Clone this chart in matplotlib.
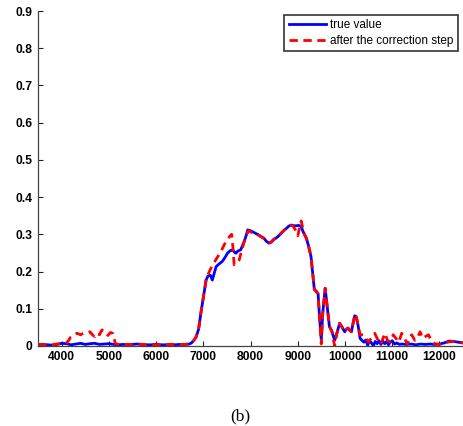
import numpy as np
import matplotlib
matplotlib.use("Agg")
import matplotlib.pyplot as plt

# true signal (blue) sampled along frequency axis
true_x = [3500, 3600, 3700, 3800, 3900, 4000, 4100, 4200, 4300, 4400, 4500,
          4600, 4700, 4800, 4900, 5000, 5100, 5200, 5300, 5400, 5500, 5600,
          5700, 5800, 5900, 6000, 6100, 6200, 6300, 6400, 6500, 6600, 6700,
          6750, 6800, 6850, 6900, 6950, 7000, 7030, 7060, 7100, 7150, 7190,
          7230, 7270, 7330, 7400, 7460, 7510, 7570, 7620, 7660, 7690, 7730,
          7790, 7830, 7870, 7910, 7940, 7990, 8040, 8100, 8160, 8220, 8280,
          8330, 8390, 8440, 8480, 8540, 8580, 8630, 8680, 8720, 8760, 8810,
          8860, 8920, 8970, 9020, 9070, 9120, 9180, 9230, 9280, 9320, 9350,
          9390, 9430, 9460, 9497, 9530, 9580, 9620, 9670, 9720, 9780, 9830,
          9886, 9940, 9993, 10030, 10064, 10100, 10135, 10170, 10206, 10240,
          10277, 10320, 10360, 10400, 10440, 10480, 10520, 10560, 10600,
          10640, 10680, 10720, 10760, 10800, 10840, 10880, 10920, 10960,
          11000, 11050, 11100, 11150, 11200, 11300, 11400, 11500, 11600,
          11700, 11800, 11900, 12000, 12100, 12200, 12300, 12400, 12500]
true_y = [0.003, 0.004, 0.003, 0.002, 0.004, 0.007, 0.006, 0.003, 0.005, 0.007,
          0.004, 0.006, 0.007, 0.004, 0.005, 0.006, 0.004, 0.003, 0.004, 0.003,
          0.004, 0.005, 0.004, 0.003, 0.003, 0.004, 0.003, 0.003, 0.004, 0.003,
          0.004, 0.004, 0.005, 0.008, 0.015, 0.025, 0.045, 0.090, 0.130, 0.155,
          0.178, 0.188, 0.190, 0.177, 0.195, 0.213, 0.220, 0.227, 0.238, 0.249,
          0.256, 0.258, 0.252, 0.249, 0.255, 0.258, 0.270, 0.282, 0.298, 0.312,
          0.310, 0.307, 0.303, 0.299, 0.294, 0.290, 0.282, 0.276, 0.279, 0.285,
          0.290, 0.294, 0.300, 0.307, 0.312, 0.316, 0.322, 0.325, 0.323, 0.323,
          0.324, 0.321, 0.305, 0.290, 0.268, 0.240, 0.190, 0.152, 0.147, 0.140,
          0.080, 0.016, 0.090, 0.155, 0.110, 0.052, 0.040, 0.015, 0.035, 0.061,
          0.050, 0.038, 0.045, 0.048, 0.042, 0.038, 0.060, 0.081, 0.078, 0.055,
          0.020, 0.015, 0.010, 0.016, 0.002, 0.014, 0.008, 0.000, 0.012, 0.006,
          0.014, 0.004, 0.013, 0.006, 0.012, 0.003, 0.010, 0.014, 0.005, 0.008,
          0.004, 0.005, 0.004, 0.005, 0.003, 0.005, 0.004, 0.005, 0.004, 0.005,
          0.008, 0.013, 0.012, 0.010, 0.008]

# estimate after the correction step (red, dashed)
corr_x = [3500, 3600, 3700, 3800, 3900, 4000, 4100, 4150, 4180, 4250, 4320,
          4400, 4460, 4530, 4600, 4650, 4700, 4745, 4800, 4851, 4920, 4980,
          5030, 5080, 5110, 5130, 5200, 5300, 5400, 5500, 5600, 5700, 5800,
          5900, 6000, 6100, 6200, 6300, 6400, 6500, 6600, 6700, 6750, 6800,
          6850, 6900, 6950, 7000, 7030, 7060, 7100, 7160, 7262, 7369, 7475,
          7560, 7600, 7630, 7652, 7700, 7759, 7820, 7865, 7920, 7960, 8020,
          8100, 8160, 8220, 8280, 8330, 8390, 8440, 8480, 8540, 8580, 8630,
          8680, 8720, 8760, 8810, 8860, 8900, 8960, 9001, 9040, 9072, 9100,
          9140, 9180, 9230, 9280, 9320, 9350, 9390, 9430, 9460, 9497, 9530,
          9580, 9620, 9670, 9720, 9780, 9830, 9886, 9940, 9993, 10030, 10064,
          10100, 10135, 10170, 10206, 10240, 10277, 10320, 10383, 10450,
          10500, 10550, 10629, 10700, 10760, 10843, 10900, 10960, 11020,
          11080, 11140, 11200, 11260, 11320, 11411, 11480, 11530, 11589,
          11650, 11700, 11766, 11837, 11900, 12000, 12100, 12200, 12300,
          12400, 12500]
corr_y = [0.004, 0.004, 0.002, 0.003, 0.005, 0.006, 0.008, 0.015, 0.022, 0.028,
          0.034, 0.030, 0.034, 0.035, 0.038, 0.030, 0.025, 0.034, 0.030, 0.043,
          0.038, 0.028, 0.036, 0.034, 0.025, 0.007, 0.004, 0.003, 0.004, 0.003,
          0.005, 0.004, 0.003, 0.004, 0.003, 0.004, 0.003, 0.004, 0.003, 0.004,
          0.004, 0.005, 0.008, 0.015, 0.025, 0.045, 0.090, 0.130, 0.155, 0.180,
          0.192, 0.209, 0.231, 0.253, 0.280, 0.295, 0.300, 0.260, 0.218, 0.222,
          0.231, 0.260, 0.280, 0.300, 0.310, 0.305, 0.302, 0.298, 0.294, 0.289,
          0.283, 0.277, 0.280, 0.285, 0.291, 0.294, 0.301, 0.307, 0.312, 0.316,
          0.321, 0.324, 0.322, 0.310, 0.296, 0.320, 0.336, 0.320, 0.300, 0.290,
          0.268, 0.240, 0.190, 0.152, 0.147, 0.140, 0.075, 0.005, 0.090, 0.155,
          0.110, 0.052, 0.040, 0.000, 0.035, 0.061, 0.050, 0.038, 0.045, 0.048,
          0.042, 0.038, 0.060, 0.085, 0.078, 0.055, 0.030, 0.030, 0.020, 0.010,
          0.020, 0.034, 0.015, 0.005, 0.034, 0.015, 0.010, 0.030, 0.020, 0.010,
          0.034, 0.020, 0.005, 0.030, 0.015, 0.020, 0.038, 0.020, 0.025, 0.030,
          0.012, 0.006, 0.004, 0.007, 0.011, 0.012, 0.010, 0.008]

xticks = [4000, 5000, 6000, 7000, 8000, 9000, 10000, 11000, 12000]
yticks = [0, 0.1, 0.2, 0.3, 0.4, 0.5, 0.6, 0.7, 0.8, 0.9]
yticklabels = ["0", "0.1", "0.2", "0.3", "0.4", "0.5", "0.6", "0.7", "0.8", "0.9"]

plt.rcParams["font.family"] = ["Liberation Sans", "DejaVu Sans"]

fig = plt.figure(figsize=(4.64, 4.26), dpi=100)
ax = fig.add_axes([0.082, 0.188, 0.916, 0.786])

ax.plot(true_x, true_y, color="#0000ff", lw=2.0, label="true value")
ax.plot(corr_x, corr_y, color="#ff0000", lw=2.0, ls=(0, (3.0, 2.0)),
        label="after the correction step")

ax.set_xlim(3500, 12500)
ax.set_ylim(0, 0.9)
ax.set_xticks(xticks)
ax.set_yticks(yticks)
ax.set_yticklabels(yticklabels)
for lbl in ax.get_xticklabels() + ax.get_yticklabels():
    lbl.set_fontweight("bold")
    lbl.set_fontsize(8.7)
ax.tick_params(direction="in", length=3.5, width=0.8, colors="#222222",
               labelcolor="black", pad=4)
ax.spines["top"].set_visible(False)
ax.spines["right"].set_visible(False)
for s in ("left", "bottom"):
    ax.spines[s].set_color("#444444")
    ax.spines[s].set_linewidth(0.9)

leg = ax.legend(loc="upper right", bbox_to_anchor=(458 / 464, 1 - 15 / 426),
                bbox_transform=fig.transFigure, fontsize=8.5, frameon=True,
                fancybox=False, edgecolor="black", borderpad=0.35,
                handlelength=3.2, handletextpad=0.35, labelspacing=0.3,
                borderaxespad=0)
leg.get_frame().set_linewidth(1.2)

fig.text(240 / 464, 1 - 416 / 426, "(b)", ha="center", va="center",
         fontsize=12.5, family=["Liberation Serif", "DejaVu Serif"])

fig.savefig("out.png", dpi=100)
